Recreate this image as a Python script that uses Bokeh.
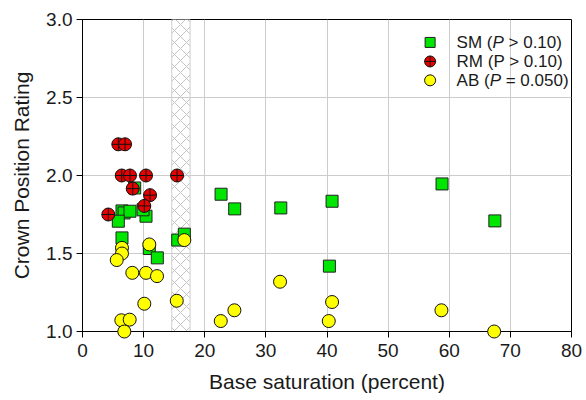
from bokeh.plotting import figure
from bokeh.models import Range1d, FixedTicker, PrintfTickFormatter, Label
from bokeh.embed import file_html
from bokeh.resources import INLINE

# ---- data ----
sm_x = [6.46, 6.8, 7.77, 5.86, 10.39, 9.9, 8.54, 6.46, 10.93, 12.24, 15.58, 16.66,
        22.67, 24.9, 32.44, 40.83, 58.82, 67.46, 40.39]
sm_y = [1.773, 1.76, 1.771, 1.707, 1.739, 1.78, 1.92, 1.60, 1.532, 1.472, 1.586, 1.624,
        1.88, 1.786, 1.792, 1.835, 1.946, 1.709, 1.419]

rm_x = [5.86, 6.96, 6.42, 7.77, 10.39, 15.47, 8.22, 11.05, 10.11, 4.22]
rm_y = [2.2, 2.2, 2.0, 2.0, 2.0, 2.0, 1.916, 1.874, 1.805, 1.75]

ab_x = [32.32, 24.85, 22.62, 40.83, 40.29, 58.72, 67.35, 6.46, 6.46, 5.6, 10.93, 8.15,
        10.39, 12.19, 10.11, 15.42, 16.66, 6.35, 7.72, 6.84]
ab_y = [1.319, 1.136, 1.067, 1.189, 1.067, 1.136, 1.0, 1.536, 1.50, 1.458, 1.558, 1.376,
        1.376, 1.355, 1.178, 1.197, 1.586, 1.072, 1.076, 1.0]

hatch_left = [14.6]
hatch_right = [17.6]

x_ticks = [0, 10, 20, 30, 40, 50, 60, 70, 80]
y_ticks = [1.0, 1.5, 2.0, 2.5, 3.0]

# ---- styling ----
FONT = "Liberation Sans"
TXT = "#1a1a1a"
GREEN = "#00e600"
RED = "#e60000"
YELLOW = "#ffff00"

p = figure(width=584, height=398, output_backend="svg", toolbar_location=None,
           x_range=Range1d(0, 80), y_range=Range1d(1, 3),
           min_border_left=82, min_border_right=13, min_border_top=19, min_border_bottom=67)
p.background_fill_color = "white"
p.border_fill_color = "white"
p.outline_line_color = "black"
p.outline_line_width = 1

p.xaxis.ticker = FixedTicker(ticks=x_ticks)
p.yaxis.ticker = FixedTicker(ticks=y_ticks)
p.yaxis.formatter = PrintfTickFormatter(format="%.1f")
p.xgrid.ticker = FixedTicker(ticks=x_ticks)
p.ygrid.ticker = FixedTicker(ticks=y_ticks)
for g in (p.xgrid, p.ygrid):
    g.grid_line_color = "#cccccc"
    g.grid_line_width = 1

for ax in (p.xaxis, p.yaxis):
    ax.axis_line_color = "black"
    ax.major_tick_line_color = "black"
    ax.major_tick_out = 6
    ax.major_tick_in = 0
    ax.minor_tick_line_color = None
    ax.major_label_text_font = FONT
    ax.major_label_text_font_size = "19px"
    ax.major_label_text_color = TXT
    ax.axis_label_text_font = FONT
    ax.axis_label_text_font_size = "21px"
    ax.axis_label_text_font_style = "normal"
    ax.axis_label_text_color = TXT

p.xaxis.axis_label = "Base saturation (percent)"
p.yaxis.axis_label = "Crown Position Rating"
p.xaxis.major_label_standoff = 6
p.yaxis.major_label_standoff = 4
p.xaxis.axis_label_standoff = 10
p.yaxis.axis_label_standoff = 10

# hatched band
p.quad(left=hatch_left, right=hatch_right, bottom=[1], top=[3],
       fill_color=None, line_color="#cfcfcf", line_width=1,
       hatch_pattern="diagonal_cross", hatch_color="#c4c4c4", hatch_scale=12, hatch_weight=1)

# data
p.scatter(sm_x, sm_y, marker="square", size=12, fill_color=GREEN, line_color="#222222", line_width=1)
p.scatter(rm_x, rm_y, marker="circle_cross", size=13, fill_color=RED, line_color="#111111", line_width=1)
p.scatter(ab_x, ab_y, marker="circle", size=13, fill_color=YELLOW, line_color="#111111", line_width=1,
          level="overlay")

# legend (manual so that P can be italic)
leg_mx = 56.87
leg_tx = 61.2
leg_rows = [2.853, 2.731, 2.610]
p.scatter([leg_mx], [leg_rows[0]], marker="square", size=10, fill_color=GREEN, line_color="#222222")
p.scatter([leg_mx], [leg_rows[1]], marker="circle_cross", size=11, fill_color=RED, line_color="#111111")
p.scatter([leg_mx], [leg_rows[2]], marker="circle", size=11, fill_color=YELLOW, line_color="#111111")

LFS = 17
def add_parts(y, parts):
    off = 0.0
    for text, style, w in parts:
        p.add_layout(Label(x=leg_tx, y=y, x_offset=off, text=text, text_font=FONT,
                           text_font_size=f"{LFS}px", text_font_style=style,
                           text_color=TXT, text_baseline="middle", text_align="left"))
        off += w * LFS / 1000.0

add_parts(leg_rows[0], [("SM (", "normal", 2111), ("P", "italic", 667 + 278), ("> 0.10)", "normal", 0)])
add_parts(leg_rows[1], [("RM (P > 0.10)", "normal", 0)])
add_parts(leg_rows[2], [("AB (", "normal", 1945), ("P", "italic", 667 + 278), ("= 0.050)", "normal", 0)])

open("out.html", "w").write(file_html(p, INLINE))
